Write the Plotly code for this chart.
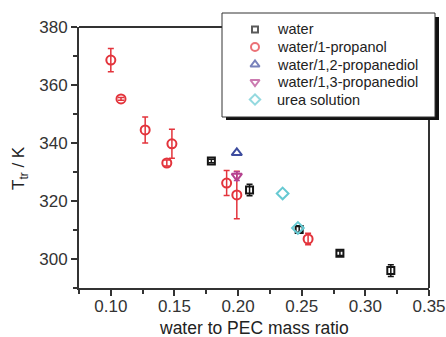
import plotly.graph_objects as go

# ---- data ----
water_x = [0.179, 0.209, 0.248, 0.280, 0.320]
water_y = [333.8, 323.8, 310.2, 302.0, 296.0]
water_err = [0.6, 2.0, 1.0, 0.8, 2.0]

prop_x = [0.100, 0.108, 0.127, 0.144, 0.148, 0.191, 0.199, 0.255]
prop_y = [368.6, 355.2, 344.5, 333.1, 339.7, 326.2, 322.1, 306.9]
prop_err = [4.0, 0.5, 4.5, 1.0, 5.0, 4.3, 8.2, 2.0]

pd12_x = [0.199]
pd12_y = [336.6]

pd13_x = [0.199]
pd13_y = [328.6]
pd13_err = [1.5]

urea_x = [0.235, 0.247]
urea_y = [322.6, 310.7]

names = ["water", "water/1-propanol", "water/1,2-propanediol",
         "water/1,3-propanediol", "urea solution"]

x_ticks = [0.10, 0.15, 0.20, 0.25, 0.30, 0.35]
x_tick_text = ["0.10", "0.15", "0.20", "0.25", "0.30", "0.35"]
x_minor = [0.075, 0.125, 0.175, 0.225, 0.275, 0.325]
y_ticks = [300, 320, 340, 360, 380]
y_minor = [290, 310, 330, 350, 370]

# ---- style ----
FONT = "Liberation Sans, Arial, sans-serif"
C_AX = "#333333"
C_BLACK = "#151515"
C_RED = "#e3343c"
C_BLUE = "#3d4c9e"
C_MAG = "#b5428f"
C_CYAN = "#66c9d2"
colors = [C_BLACK, C_RED, C_BLUE, C_MAG, C_CYAN]
symbols = ["square-open", "circle-open", "triangle-up-open", "triangle-down-open", "diamond-open"]
sizes = [7, 9, 9, 9, 9]

L, R, T, B = 79, 17, 27, 49
W, H = 446, 337
pw, ph = W - L - R, H - T - B


def px(xp):
    return (xp - L) / pw


def py(yp):
    return (H - B - yp) / ph


fig = go.Figure()


def err(vals, color):
    return dict(type="data", array=vals, visible=True, color=color,
                thickness=1.5, width=3)


series = [
    (water_x, water_y, water_err),
    (prop_x, prop_y, prop_err),
    (pd12_x, pd12_y, None),
    (pd13_x, pd13_y, pd13_err),
    (urea_x, urea_y, None),
]
for i, (xs, ys, es) in enumerate(series):
    fig.add_trace(go.Scatter(
        x=xs, y=ys, mode="markers", name=names[i], showlegend=False,
        error_y=err(es, colors[i]) if es is not None else None,
        marker=dict(symbol=symbols[i], size=sizes[i], color=colors[i],
                    line=dict(width=2, color=colors[i]))))

# ---- legend (drawn by hand so its spacing matches) ----
LEG_BOX = (222, 13, 435, 117)   # left, top, right, bottom in px
LEG_MARK_X = 255
LEG_TEXT_X = 275
LEG_ROW0 = 29.5
LEG_ROW_STEP = 17.5
rows = [LEG_ROW0 + i * LEG_ROW_STEP for i in range(len(names))]

fig.add_trace(go.Scatter(
    x=[LEG_MARK_X] * len(names), y=rows, xaxis="x2", yaxis="y2",
    mode="markers", showlegend=False, hoverinfo="skip", cliponaxis=False,
    marker=dict(symbol=symbols, size=[s - 1 for s in sizes], color=colors,
                line=dict(width=2, color=colors))))

bl, bt, br, bb = LEG_BOX
fig.add_shape(type="rect", xref="paper", yref="paper",
              x0=px(bl + 4), x1=px(br + 4), y0=py(bb + 3), y1=py(bt + 4),
              fillcolor="#111", line=dict(width=0), layer="below")
fig.add_shape(type="rect", xref="paper", yref="paper",
              x0=px(bl), x1=px(br), y0=py(bb), y1=py(bt),
              fillcolor="white", line=dict(width=1, color="#333"), layer="below")
fig.add_shape(type="line", xref="paper", yref="paper", x0=0, x1=px(bl), y0=1, y1=1,
              line=dict(width=2, color=C_AX), layer="below")
fig.add_shape(type="line", xref="paper", yref="paper", x0=1, x1=1, y0=0, y1=py(bb + 3),
              line=dict(width=2, color=C_AX), layer="below")

annotations = []
for i, name in enumerate(names):
    annotations.append(dict(text=name, xref="paper", yref="paper",
                            x=px(LEG_TEXT_X), y=py(rows[i]), xanchor="left",
                            yanchor="middle", showarrow=False,
                            font=dict(family=FONT, size=14.5, color="#222")))
annotations.append(dict(text="T<sub>tr</sub> / K", xref="paper", yref="paper",
                        x=px(20), y=py(168), textangle=-90, showarrow=False,
                        xanchor="center", yanchor="middle",
                        font=dict(family=FONT, size=17, color="#222")))
annotations.append(dict(text="water to PEC mass ratio", xref="paper", yref="paper",
                        x=0.5, y=py(327.5), showarrow=False,
                        xanchor="center", yanchor="middle",
                        font=dict(family=FONT, size=17.5, color="#222")))

axis_common = dict(showline=True, linecolor=C_AX, linewidth=2, mirror=False,
                   ticks="outside", ticklen=6, tickwidth=1.5, tickcolor=C_AX,
                   showgrid=False, zeroline=False, ticklabeloverflow="allow",
                   automargin=False,
                   tickfont=dict(family=FONT, size=17, color="#333"))

fig.update_layout(
    width=W, height=H,
    margin=dict(l=L, r=R, t=T, b=B, autoexpand=False),
    paper_bgcolor="white", plot_bgcolor="rgba(0,0,0,0)",
    showlegend=False,
    annotations=annotations,
    xaxis=dict(range=[0.075, 0.35], tickvals=x_ticks, ticktext=x_tick_text,
               ticklabelstandoff=-4,
               minor=dict(ticks="outside", ticklen=4, tickwidth=1.5, tickcolor=C_AX,
                          tickvals=x_minor),
               **axis_common),
    yaxis=dict(range=[290, 380], tickvals=y_ticks,
               minor=dict(ticks="outside", ticklen=4, tickwidth=1.5, tickcolor=C_AX,
                          tickvals=y_minor),
               **axis_common),
    xaxis2=dict(overlaying="x", range=[L, W - R], visible=False, fixedrange=True),
    yaxis2=dict(overlaying="y", range=[H - B, T], visible=False, fixedrange=True),
)

fig.write_html("out.html")
